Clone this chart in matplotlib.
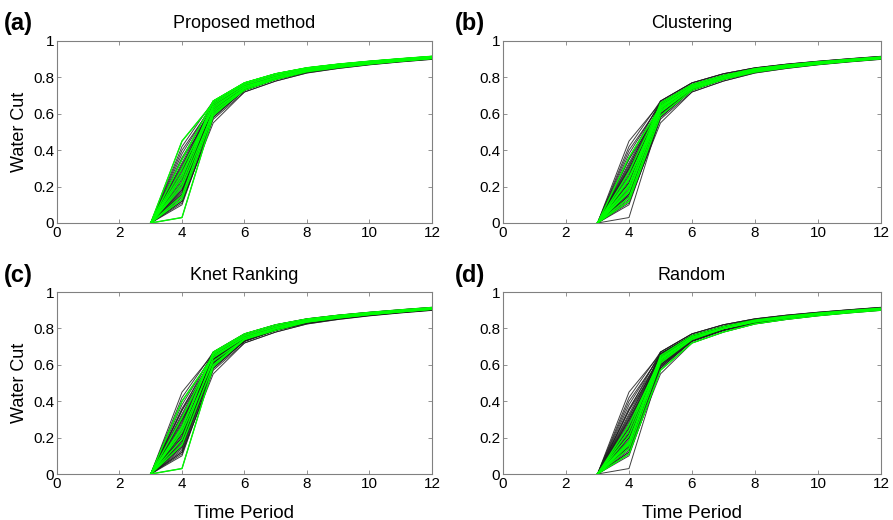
import matplotlib
matplotlib.use("Agg")
import matplotlib.pyplot as plt
from matplotlib.ticker import FuncFormatter

plt.rcParams['font.family'] = ['Liberation Sans', 'DejaVu Sans']

time_steps = [3, 4, 5, 6, 7, 8, 9, 10, 11, 12]

wc_t3 = [0.0] * 40
wc_t4 = [0.45, 0.42, 0.40, 0.38, 0.36, 0.35, 0.33, 0.32, 0.31, 0.30,
         0.29, 0.28, 0.27, 0.26, 0.25, 0.24, 0.23, 0.22, 0.22, 0.21,
         0.20, 0.19, 0.18, 0.18, 0.17, 0.16, 0.15, 0.15, 0.14, 0.13,
         0.12, 0.11, 0.10, 0.25, 0.20, 0.30, 0.16, 0.35, 0.12, 0.03]
wc_t5 = [0.66, 0.67, 0.65, 0.66, 0.64, 0.67, 0.65, 0.63, 0.66, 0.64,
         0.62, 0.65, 0.63, 0.66, 0.61, 0.64, 0.62, 0.65, 0.60, 0.63,
         0.61, 0.64, 0.62, 0.59, 0.63, 0.60, 0.62, 0.58, 0.61, 0.60,
         0.59, 0.57, 0.58, 0.67, 0.66, 0.61, 0.65, 0.62, 0.55, 0.59]
wc_t6 = [0.76, 0.77, 0.75, 0.76, 0.75, 0.77, 0.76, 0.74, 0.76, 0.75,
         0.74, 0.76, 0.75, 0.76, 0.74, 0.75, 0.74, 0.76, 0.73, 0.75,
         0.74, 0.75, 0.74, 0.73, 0.75, 0.74, 0.74, 0.73, 0.74, 0.73,
         0.73, 0.72, 0.73, 0.77, 0.76, 0.74, 0.76, 0.75, 0.72, 0.74]
wc_t7 = [0.81, 0.82, 0.80, 0.81, 0.80, 0.82, 0.81, 0.80, 0.81, 0.80,
         0.80, 0.81, 0.80, 0.81, 0.79, 0.80, 0.80, 0.81, 0.79, 0.80,
         0.79, 0.80, 0.80, 0.79, 0.80, 0.79, 0.80, 0.79, 0.80, 0.79,
         0.79, 0.78, 0.79, 0.82, 0.81, 0.80, 0.81, 0.80, 0.78, 0.80]
wc_t8 = [0.846, 0.852, 0.840, 0.847, 0.839, 0.853, 0.845, 0.836, 0.846, 0.841,
         0.835, 0.847, 0.840, 0.846, 0.834, 0.841, 0.837, 0.848, 0.830, 0.840,
         0.835, 0.841, 0.836, 0.831, 0.840, 0.835, 0.837, 0.830, 0.836, 0.831,
         0.829, 0.825, 0.830, 0.852, 0.847, 0.836, 0.846, 0.840, 0.824, 0.836]
wc_t9 = [0.867, 0.872, 0.862, 0.868, 0.861, 0.873, 0.866, 0.858, 0.867, 0.862,
         0.857, 0.868, 0.862, 0.867, 0.856, 0.862, 0.859, 0.868, 0.854, 0.861,
         0.857, 0.862, 0.858, 0.854, 0.861, 0.857, 0.858, 0.853, 0.858, 0.854,
         0.853, 0.850, 0.854, 0.872, 0.867, 0.858, 0.867, 0.862, 0.849, 0.858]
wc_t10 = [0.884, 0.888, 0.880, 0.885, 0.879, 0.889, 0.884, 0.877, 0.884, 0.880,
          0.876, 0.885, 0.880, 0.884, 0.875, 0.880, 0.877, 0.885, 0.873, 0.879,
          0.876, 0.880, 0.877, 0.873, 0.879, 0.876, 0.877, 0.872, 0.877, 0.873,
          0.872, 0.870, 0.873, 0.888, 0.884, 0.877, 0.884, 0.880, 0.869, 0.877]
wc_t11 = [0.898, 0.902, 0.894, 0.899, 0.893, 0.903, 0.898, 0.892, 0.898, 0.894,
          0.891, 0.899, 0.894, 0.898, 0.890, 0.894, 0.892, 0.899, 0.889, 0.893,
          0.891, 0.894, 0.892, 0.889, 0.893, 0.891, 0.892, 0.888, 0.892, 0.889,
          0.888, 0.886, 0.889, 0.902, 0.898, 0.892, 0.898, 0.894, 0.885, 0.892]
wc_t12 = [0.911, 0.915, 0.908, 0.912, 0.907, 0.916, 0.911, 0.906, 0.911, 0.908,
          0.905, 0.912, 0.908, 0.911, 0.904, 0.908, 0.906, 0.912, 0.903, 0.907,
          0.905, 0.908, 0.906, 0.903, 0.907, 0.905, 0.906, 0.902, 0.906, 0.903,
          0.902, 0.900, 0.903, 0.915, 0.911, 0.906, 0.911, 0.908, 0.899, 0.906]

panel_titles = ["Proposed method", "Clustering", "Knet Ranking", "Random"]
panel_letters = ["(a)", "(b)", "(c)", "(d)"]
selected_a = [0, 39, 5, 12, 20, 26, 33, 17, 9, 29]
selected_b = [11, 15, 19, 22, 24, 28, 14, 34, 30, 4]
selected_c = [39, 2, 13, 21, 16, 25, 8, 33]
selected_d = [15, 19, 24, 28, 31, 22, 12, 36]
selections = [selected_a, selected_b, selected_c, selected_d]

xticks = [0, 2, 4, 6, 8, 10, 12]
yticks = [0, 0.2, 0.4, 0.6, 0.8, 1.0]

series = [wc_t3, wc_t4, wc_t5, wc_t6, wc_t7, wc_t8, wc_t9, wc_t10, wc_t11, wc_t12]
n_curves = len(wc_t4)
curves = [[s[i] for s in series] for i in range(n_curves)]

W, H = 893, 520
fig = plt.figure(figsize=(W / 100, H / 100), dpi=100)

# axes boxes in pixels: (left, top, right, bottom)
boxes = [(57, 41, 432, 223), (503, 41, 881, 223),
         (57, 292, 432, 474), (503, 292, 881, 474)]
letter_pos = [(4, 30), (455, 30), (4, 282), (455, 282)]


def fmt(v, pos):
    if abs(v) < 1e-9:
        return "0"
    if abs(v - 1) < 1e-9:
        return "1"
    return ("%.1f" % v)


for k in range(4):
    l, t, r, b = boxes[k]
    ax = fig.add_axes([l / W, 1 - b / H, (r - l) / W, (b - t) / H])
    for c in curves:
        ax.plot(time_steps, c, color='#1e1e1e', lw=0.7, alpha=0.85, zorder=2)
    for i in selections[k]:
        ax.plot(time_steps, curves[i], color='#00ff00', lw=1.0, zorder=3)
    ax.set_xlim(0, 12)
    ax.set_ylim(0, 1)
    ax.set_xticks(xticks)
    ax.set_yticks(yticks)
    ax.yaxis.set_major_formatter(FuncFormatter(fmt))
    ax.tick_params(direction='in', length=3, width=0.6, color='#808080',
                   labelsize=11, top=True, right=True, pad=2)
    for s in ax.spines.values():
        s.set_color('#808080')
        s.set_linewidth(0.8)
    ax.set_title(panel_titles[k], fontsize=13, pad=9)
    if k in (0, 2):
        ax.set_ylabel("Water Cut", fontsize=13, labelpad=4)
    if k in (2, 3):
        ax.set_xlabel("Time Period", fontsize=13.5, labelpad=10)
    lx, ly = letter_pos[k]
    fig.text(lx / W, 1 - ly / H, panel_letters[k], fontsize=17,
             fontweight='bold', ha='left', va='baseline')

fig.savefig("out.png", dpi=100)
